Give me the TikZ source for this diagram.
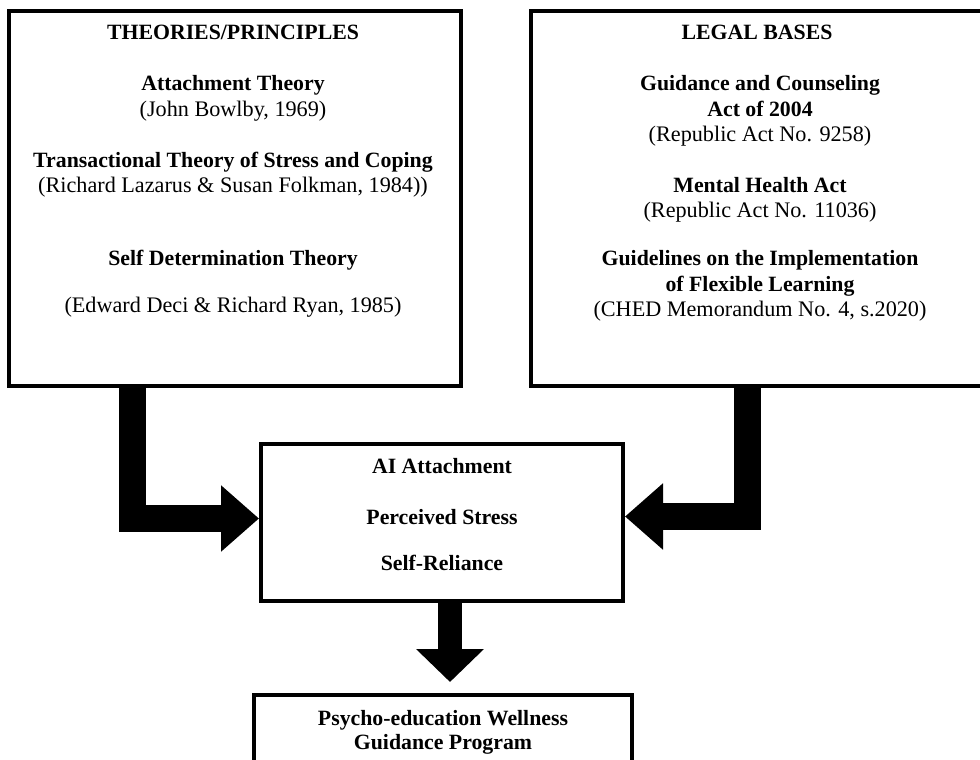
\documentclass[tikz,border=0pt]{standalone}
\usepackage{fontspec}
\setmainfont{Liberation Serif}
\usetikzlibrary{positioning,arrows.meta}

\tikzset{
	box/.style={draw, line width=4pt, inner sep=0pt},
	head/.style={anchor=base, font=\fontsize{21.8}{25.5}\selectfont\bfseries},
	cite/.style={anchor=base, font=\fontsize{22.2}{25.5}\selectfont},
	bigarrow/.style={line width=27pt, -{Triangle[length=38pt,width=64pt]}}
}

\begin{document}
\begin{tikzpicture}[x=1pt, y=-1pt]
		\useasboundingbox (0,0) rectangle (980,760);
		
		% boxes
		\node[box, minimum width=452pt, minimum height=375pt] (theo) at (235,198.5) {};
		\node[box, minimum width=455pt, minimum height=375pt] (legal) at (758.5,198.5) {};
		\node[box, minimum width=362pt, minimum height=157pt] (mid) at (442,522.5) {};
		\node[box, minimum width=378pt, minimum height=75pt] (prog) at (443,732.5) {};
		
		% theories
		\node[head] (th) at (233,40) {THEORIES/PRINCIPLES};
		\node[head] (att) at (233,90) {Attachment Theory};
		\node[cite] (attc) at (233,116) {(John Bowlby, 1969)};
		\node[head] (tts) at (233,167) {Transactional Theory of Stress and Coping};
		\node[cite] (ttsc) at (233,192) {(Richard Lazarus \& Susan Folkman, 1984))};
		\node[head] (sdt) at (233,265) {Self Determination Theory};
		\node[cite] (sdtc) at (233,312) {(Edward Deci \& Richard Ryan, 1985)};
		
		% legal bases
		\node[head] (lb) at (757,40) {LEGAL BASES};
		\node[head] (gc) at (760,90) {Guidance and Counseling};
		\node[head] (gca) at (760,116) {Act of 2004};
		\node[cite] (gcc) at (760,141) {(Republic Act No. 9258)};
		\node[head] (mh) at (760,192) {Mental Health Act};
		\node[cite] (mhc) at (760,217) {(Republic Act No. 11036)};
		\node[head] (fl) at (760,265) {Guidelines on the Implementation};
		\node[head] (fla) at (760,291) {of Flexible Learning};
		\node[cite] (flc) at (760,316) {(CHED Memorandum No. 4, s.2020)};
		
		% variables
		\node[head] (ai) at (442,473) {AI Attachment};
		\node[head] (ps) at (442,524) {Perceived Stress};
		\node[head] (sr) at (442,570) {Self-Reliance};
		
		% program
		\node[head] (pw) at (443,725) {Psycho-education Wellness};
		\node[head] (gp) at (443,749) {Guidance Program};
		
		% arrows
		\draw[bigarrow] ([xshift=-102.5pt]theo.south) |- ([yshift=4pt]mid.west);
		\draw[bigarrow] ([xshift=-11pt]legal.south) |- ([yshift=6pt]mid.east);
		\draw[bigarrow, line width=24pt, -{Triangle[length=33pt,width=66pt]}, shorten >=11pt]
			([xshift=8pt]mid.south) -- ([xshift=8pt]mid.south |- prog.north);
	\end{tikzpicture}
\end{document}
